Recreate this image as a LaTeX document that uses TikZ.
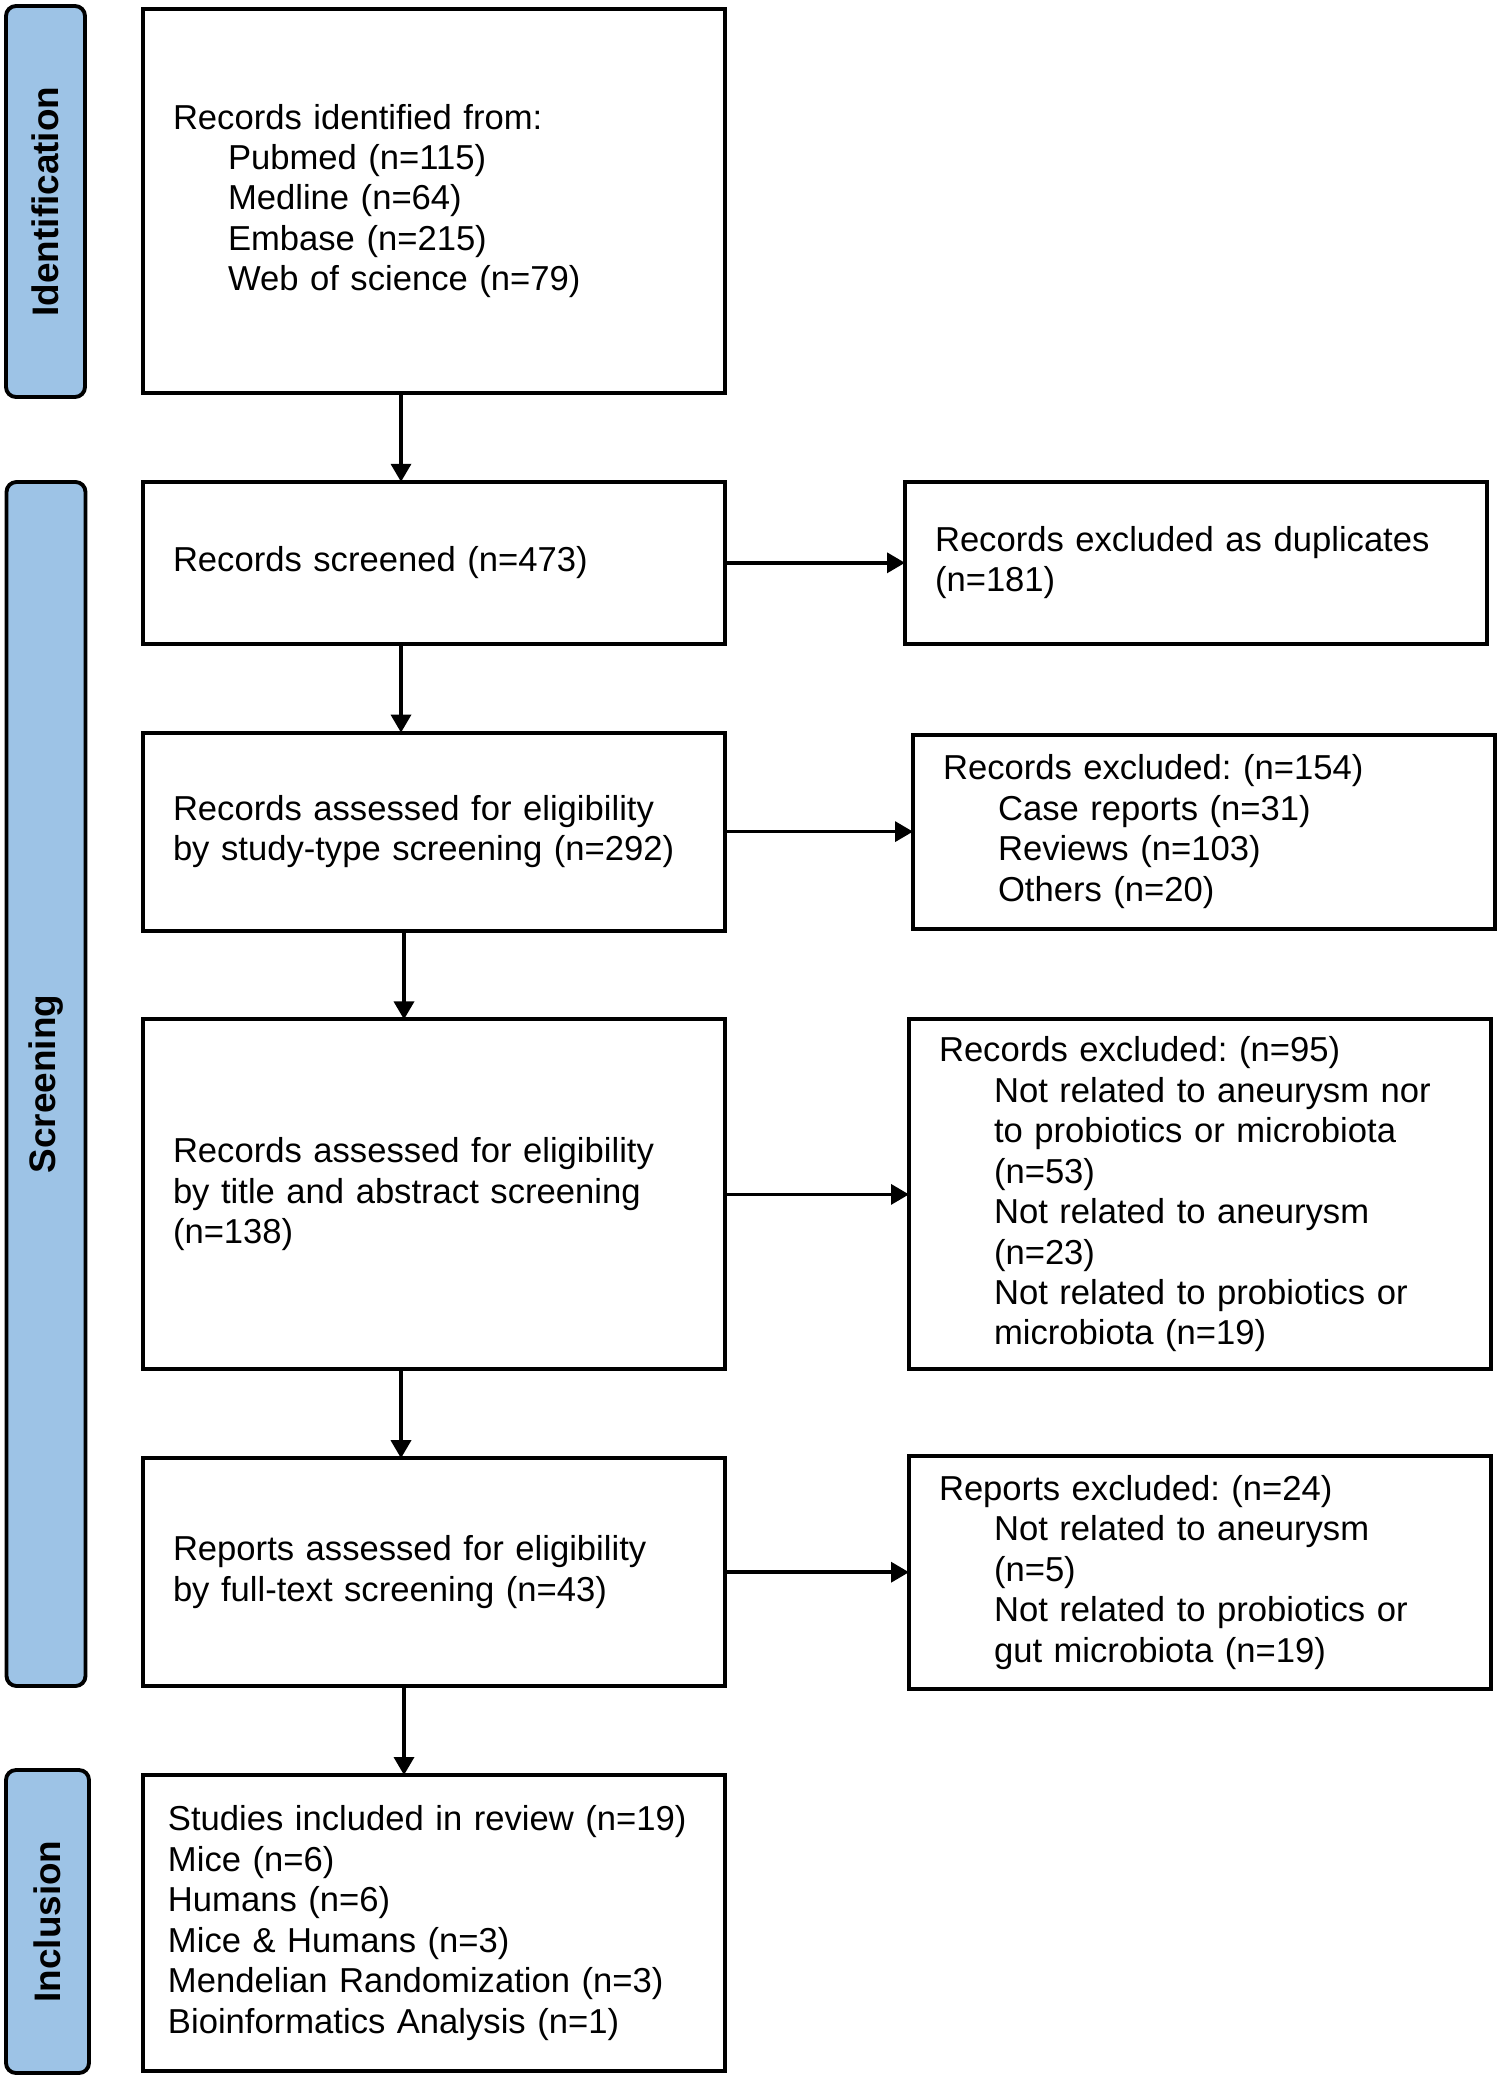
\documentclass[tikz,border=0pt]{standalone}
\usepackage{fontspec}
\setmainfont{Liberation Sans}
\frenchspacing
\usetikzlibrary{calc,chains,arrows.meta,positioning}
\definecolor{stageblue}{RGB}{157,195,230}
\newcommand{\subgap}{\hspace*{0.55cm}}
\tikzset{box/.style={draw, line width=1.1pt, rectangle, outer sep=0pt, minimum width=5.82cm, text width=5.22cm, inner xsep=0.3cm, inner ysep=0pt, align=left, text=black, font=\fontsize{9.85}{11.5}\selectfont}, stage/.style={draw, line width=1.1pt, fill=stageblue, rounded corners=0.1cm, rotate=90, minimum height=0.79cm, inner sep=0pt, font=\bfseries\fontsize{10.5}{12}\selectfont}, >={Triangle[length=0.18cm,width=0.2cm]}, link/.style={->, line width=1pt}}

\begin{document}
\begin{tikzpicture}[start chain=going below, node distance=0.888cm]
    \useasboundingbox (0,0) rectangle (15,-20.8);
    \node[box,on chain,minimum height=3.84cm,anchor=north west] (ident) at (1.43,-0.09) {Records identified from:\\\subgap Pubmed (n=115)\\\subgap Medline (n=64)\\\subgap Embase (n=215)\\\subgap Web of science (n=79)};
    \node[box,on chain,minimum height=1.62cm] (screen) {Records screened (n=473)};
    \node[box,on chain,minimum height=1.98cm] (studytype) {Records assessed for eligibility\\by study-type screening (n=292)};
    \node[box,on chain,minimum height=3.50cm] (abstract) {Records assessed for eligibility\\by title and abstract screening\\(n=138)};
    \node[box,on chain,minimum height=2.28cm] (fulltext) {Reports assessed for eligibility\\by full-text screening (n=43)};
    \node[box,on chain,minimum height=2.96cm,inner xsep=0.25cm,text width=5.32cm] (included) {Studies included in review (n=19)\\Mice (n=6)\\Humans (n=6)\\Mice \& Humans (n=3)\\Mendelian Randomization (n=3)\\Bioinformatics Analysis (n=1)};
    \node[box,minimum height=1.62cm,right=1.80cm of screen] (dupl) {Records excluded as duplicates\\(n=181)};
    \node[box,minimum height=1.94cm,right=1.88cm of studytype] (excl1) {Records excluded: (n=154)\\\subgap Case reports (n=31)\\\subgap Reviews (n=103)\\\subgap Others (n=20)};
    \node[box,minimum height=3.50cm,right=1.84cm of abstract] (excl2) {Records excluded: (n=95)\\\subgap Not related to aneurysm nor\\\subgap to probiotics or microbiota\\\subgap (n=53)\\\subgap Not related to aneurysm\\\subgap (n=23)\\\subgap Not related to probiotics or\\\subgap microbiota (n=19)};
    \node[box,minimum height=2.33cm,right=1.84cm of fulltext] (excl3) {Reports excluded: (n=24)\\\subgap Not related to aneurysm\\\subgap (n=5)\\\subgap Not related to probiotics or\\\subgap gut microbiota (n=19)};
    \node[stage,minimum width=3.91cm] (identbar) at (0.455,-2.015) {Identification};
    \node[stage,minimum width=12.04cm] (screenbar) at (0.46,-10.84) {Screening};
    \node[stage,minimum width=3.03cm,minimum height=0.83cm] (inclbar) at (0.475,-19.215) {Inclusion};
    \draw[link] ([xshift=-0.33cm]ident.south) -- ([xshift=-0.33cm]screen.north);
    \draw[link] ([xshift=-0.33cm]screen.south) -- ([xshift=-0.33cm]studytype.north);
    \draw[link] ([xshift=-0.30cm]studytype.south) -- ([xshift=-0.30cm]abstract.north);
    \draw[link] ([xshift=-0.33cm]abstract.south) -- ([xshift=-0.33cm]fulltext.north);
    \draw[link] ([xshift=-0.30cm]fulltext.south) -- ([xshift=-0.30cm]included.north);
    \draw[link] (screen) -- (dupl);
    \draw[link] (studytype) -- (excl1);
    \draw[link] (abstract) -- (excl2);
    \draw[link] (fulltext) -- (excl3);
\end{tikzpicture}
\end{document}
